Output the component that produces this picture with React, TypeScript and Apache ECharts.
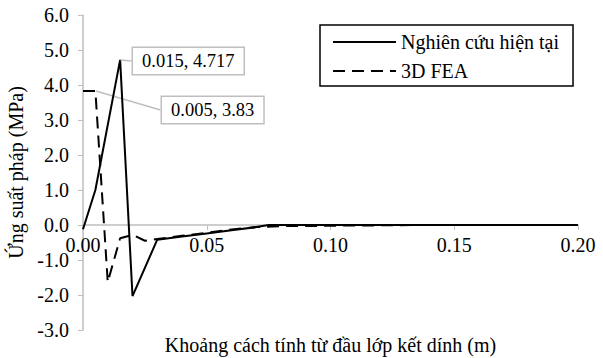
import React, { useEffect, useRef } from "react";
import * as echarts from "echarts";

const studyX = [0, 0.005, 0.015, 0.02, 0.03, 0.04, 0.05, 0.06, 0.07, 0.075, 0.1, 0.15, 0.2];
const studyY = [-0.12, 1.0, 4.717, -2.03, -0.42, -0.33, -0.24, -0.15, -0.06, 0, 0, 0, 0];

const feaX = [0, 0.005, 0.01, 0.015, 0.02, 0.025, 0.03, 0.04, 0.05, 0.06, 0.07, 0.08, 0.09, 0.1, 0.12, 0.14, 0.165];
const feaY = [3.83, 3.83, -1.63, -0.38, -0.28, -0.45, -0.4, -0.31, -0.22, -0.13, -0.06, -0.03, -0.03, -0.02, -0.01, 0, 0];

const seriesNames = ["Nghiên cứu hiện tại", "3D FEA"];
const xTitle = "Khoảng cách tính từ đầu lớp kết dính (m)";
const yTitle = "Ứng suất pháp (MPa)";
const studyPeakIndex = 2;
const feaNoteIndex = 1;

const FONT = "'Liberation Serif', 'Times New Roman', serif";
const GRAY = "#bfbfbf";

const noteItem = (x: number, y: number) => ({
  value: [x, y],
  symbol: "circle",
  symbolSize: 1,
  itemStyle: { color: "rgba(0,0,0,0)" },
  label: {
    show: true,
    formatter: `${x}, ${y}`,
    fontFamily: FONT,
    fontSize: 18.5,
    color: "#000",
    backgroundColor: "#fff",
    borderColor: GRAY,
    borderWidth: 1.5,
    padding: [4, 9, 3, 9],
  },
  labelLine: { show: true, lineStyle: { color: GRAY, width: 1.5 } },
});

export default function App() {
  const ref = useRef<HTMLDivElement>(null);
  useEffect(() => {
    if (!ref.current) return;
    const chart = echarts.init(ref.current, null, { renderer: "svg" });
    const studyData = studyX.map((x, i) =>
      i === studyPeakIndex ? noteItem(x, studyY[i]) : { value: [x, studyY[i]] }
    );
    const feaData = feaX.map((x, i) =>
      i === feaNoteIndex ? noteItem(x, feaY[i]) : { value: [x, feaY[i]] }
    );
    const yMin = -3;
    const yMax = 6;
    const plotTop = 15;
    const plotBottom = 28;
    const plotH = 358 - plotTop - plotBottom;
    const zeroOffset = -(plotH * (0 - yMin)) / (yMax - yMin);
    chart.setOption({
      animation: false,
      backgroundColor: "#fff",
      textStyle: { fontFamily: FONT },
      grid: { left: 83, right: 25, top: plotTop, bottom: plotBottom, containLabel: false, outerBoundsMode: "none" },
      legend: {
        orient: "vertical",
        left: 320,
        top: 25,
        itemWidth: 63,
        itemHeight: 14,
        itemGap: 9,
        padding: [7, 14, 5, 12],
        borderColor: "#000",
        borderWidth: 1.5,
        itemStyle: { opacity: 0 },
        textStyle: { fontFamily: FONT, fontSize: 20, color: "#000", lineHeight: 20 },
        data: seriesNames,
      },
      xAxis: {
        type: "value",
        min: 0,
        max: 0.2,
        interval: 0.05,
        position: "bottom",
        offset: zeroOffset,
        name: xTitle,
        nameLocation: "middle",
        nameGap: 110,
        nameTextStyle: { fontFamily: FONT, fontSize: 20, color: "#000" },
        axisLine: { onZero: false, lineStyle: { color: GRAY, width: 1.5 } },
        axisTick: { show: true, length: 5, lineStyle: { color: GRAY } },
        axisLabel: {
          formatter: (v: number) => v.toFixed(2),
          fontFamily: FONT,
          fontSize: 20,
          color: "#000",
          margin: 10,
        },
        splitLine: { show: false },
      },
      yAxis: {
        type: "value",
        min: yMin,
        max: yMax,
        interval: 1,
        name: yTitle,
        nameLocation: "middle",
        nameGap: 48,
        nameTextStyle: { fontFamily: FONT, fontSize: 20, color: "#000" },
        axisLine: { show: true, lineStyle: { color: GRAY, width: 1.5 } },
        axisTick: { show: true, length: 5, lineStyle: { color: GRAY } },
        axisLabel: {
          formatter: (v: number) => v.toFixed(1),
          fontFamily: FONT,
          fontSize: 20,
          color: "#000",
          margin: 14,
        },
        splitLine: { show: false },
      },
      series: [
        {
          name: seriesNames[0],
          type: "line",
          data: studyData,
          symbol: "none",
          lineStyle: { color: "#000", width: 2 },
          itemStyle: { color: "#000" },
          labelLayout: (p: any) =>
            p.dataIndex === studyPeakIndex
              ? { x: 133, y: 61, align: "left", verticalAlign: "middle" }
              : {},
          z: 3,
        },
        {
          name: seriesNames[1],
          type: "line",
          data: feaData,
          symbol: "none",
          lineStyle: { color: "#000", width: 2, type: [12, 7] },
          itemStyle: { color: "#000" },
          labelLayout: (p: any) =>
            p.dataIndex === feaNoteIndex
              ? { x: 162, y: 110, align: "left", verticalAlign: "middle" }
              : {},
          z: 2,
        },
      ],
    });
    return () => chart.dispose();
  }, []);
  return (
    <div
      ref={ref}
      style={{ position: "fixed", left: 0, top: 0, width: 603, height: 358 }}
    />
  );
}
